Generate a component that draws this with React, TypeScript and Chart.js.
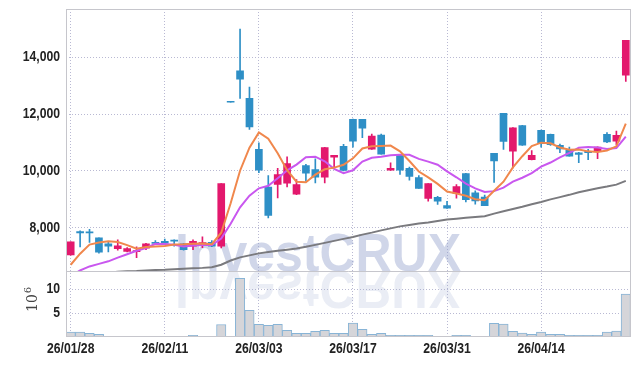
import { useEffect, useRef } from 'react';
import { Chart, registerables } from 'chart.js';

Chart.register(...registerables);

const dates = [
  '26/01/28', '26/01/29', '26/01/30', '26/02/02', '26/02/03', '26/02/04', '26/02/05', '26/02/06', '26/02/09', '26/02/10',
  '26/02/11', '26/02/12', '26/02/13', '26/02/19', '26/02/20', '26/02/23', '26/02/24', '26/02/25', '26/02/26', '26/02/27',
  '26/03/03', '26/03/04', '26/03/05', '26/03/06', '26/03/09', '26/03/10', '26/03/11', '26/03/12', '26/03/13', '26/03/16',
  '26/03/17', '26/03/18', '26/03/19', '26/03/20', '26/03/23', '26/03/24', '26/03/25', '26/03/26', '26/03/27', '26/03/30',
  '26/03/31', '26/04/01', '26/04/02', '26/04/03', '26/04/06', '26/04/07', '26/04/08', '26/04/09', '26/04/10', '26/04/13',
  '26/04/14', '26/04/15', '26/04/16', '26/04/17', '26/04/20', '26/04/21', '26/04/22', '26/04/23', '26/04/24', '26/04/27',
];

const opens = [
  7050, 7870, 7860, 7650, 7440, 7270, 7170, 7160, 7280, 7490,
  7520, 7570, 7440, 7350, 7420, 7490, 7350, 12420, 13520, 12560,
  10760, 9430, 9530, 9570, 9180, 10190, 10050, 9780, 10490, 10870,
  11820, 11820, 10770, 11260, 10030, 10580, 10090, 9770, 9030, 9070,
  8780, 9210, 9910, 9230, 9080, 10620, 12030, 10700, 11600, 10400,
  11430, 11290, 10900, 10730, 10640, 10690, 10700, 11290, 11050, 13370,
];
const highs = [
  7510, 7890, 7950, 7650, 7510, 7580, 7300, 7330, 7450, 7550,
  7600, 7575, 7450, 7580, 7680, 7550, 9560, 12420, 14990, 12950,
  10990, 9840, 10090, 10500, 9700, 10230, 10430, 10830, 10550, 10940,
  11830, 11820, 11300, 11300, 10290, 10590, 10140, 9840, 9560, 9110,
  8930, 9520, 9920, 9300, 9150, 10620, 12030, 11530, 11610, 10720,
  11440, 11300, 10950, 10840, 10660, 10760, 10850, 11350, 11400, 14600,
];
const lows = [
  7040, 7330, 7490, 7110, 7150, 7210, 7150, 6950, 7230, 7440,
  7450, 7350, 7210, 7230, 7300, 7340, 7290, 12420, 12550, 11460,
  9940, 8350, 9050, 9440, 9170, 9640, 9580, 9580, 10110, 10000,
  10840, 11170, 10760, 10590, 10020, 9880, 9680, 9390, 8940, 8820,
  8680, 9040, 8910, 8830, 8780, 9600, 10760, 10110, 10900, 10390,
  10840, 10900, 10640, 10520, 10290, 10400, 10430, 11000, 10930, 13150,
];
const closes = [
  7510, 7820, 7820, 7140, 7350, 7370, 7270, 7190, 7440, 7450,
  7460, 7530, 7230, 7520, 7480, 7350, 9560, 12420, 13230, 11550,
  10030, 8440, 9870, 10260, 9520, 9920, 9780, 10820, 10550, 10020,
  11050, 11510, 11230, 10590, 10090, 10030, 9810, 9390, 9560, 8940,
  8690, 9450, 8990, 8950, 8780, 10350, 11040, 11520, 10910, 10550,
  10960, 10930, 10780, 10520, 10580, 10640, 10840, 11020, 11250, 14600,
];

// volume in millions of shares
const volumes = [
  1.0, 1.0, 0.76, 0.55, 0.15, 0.15, 0.15, 0.15, 0.15, 0,
  0, 0.15, 0.15, 0.35, 0.15, 0.15, 2.6, 0.05, 12.2, 5.55,
  2.65, 2.43, 2.65, 1.4, 0.76, 0.76, 1.18, 1.4, 0.76, 0.76,
  2.9, 1.6, 0.55, 0.76, 0.35, 0.35, 0.35, 0.35, 0.35, 0.15,
  0.15, 0.35, 0.35, 0.15, 0.15, 2.85, 2.7, 1.18, 0.8, 0.55,
  1.04, 0.55, 0.55, 0.35, 0.35, 0.35, 0.35, 1.0, 1.25, 8.96,
];

const ma5 = [
  6700, 7090, 7410, 7480, 7528, 7500, 7390, 7264, 7324, 7344,
  7362, 7414, 7422, 7438, 7444, 7422, 7828, 8866, 10008, 10822,
  11358, 11134, 10624, 10030, 9624, 9602, 9870, 10060, 10118, 10218,
  10444, 10790, 10872, 10880, 10894, 10690, 10350, 9982, 9776, 9546,
  9278, 9206, 9126, 9004, 8972, 9304, 9622, 10128, 10520, 10874,
  10996, 10974, 10826, 10748, 10754, 10690, 10672, 10720, 10866, 11670,
];
const ma10 = [
  6300, 6500, 6640, 6730, 6820, 6950, 7070, 7190, 7290, 7436,
  7431, 7402, 7343, 7381, 7394, 7392, 7621, 8144, 8723, 9133,
  9390, 9481, 9745, 10019, 10223, 10480, 10502, 10342, 10074, 9921,
  10023, 10330, 10466, 10499, 10556, 10567, 10570, 10427, 10328, 10220,
  9984, 9778, 9554, 9390, 9259, 9291, 9414, 9627, 9762, 9923,
  10150, 10298, 10477, 10634, 10814, 10843, 10823, 10773, 10807, 11212,
];
const ma60 = [
  6380, 6390, 6400, 6410, 6430, 6450, 6470, 6480, 6500, 6515,
  6526, 6545, 6560, 6575, 6590, 6615, 6700, 6850, 6960, 7030,
  7100, 7150, 7190, 7230, 7270, 7330, 7400, 7470, 7540, 7610,
  7680, 7760, 7830, 7910, 7980, 8050, 8100, 8150, 8190, 8240,
  8290, 8320, 8350, 8380, 8410, 8500, 8580, 8660, 8740, 8830,
  8910, 9000, 9080, 9160, 9250, 9320, 9390, 9450, 9520, 9650,
];

const priceTicks = [8000, 10000, 12000, 14000];
const volumeTicks = [5, 10];
const volumeUnit = '10';
const volumeUnitExp = '6';

const PINK = '#e3186d';
const BLUE = '#2e8fc6';
const GRID = '#b9b9d3';
const FRAME = '#c6c6cc';
const LABEL_COLOR = '#222';
const LABEL_FONT = 'bold 14px "Liberation Sans", Arial, sans-serif';
const LABEL_SX = 0.87;

export default function App() {
  const ref = useRef<HTMLCanvasElement>(null);

  useEffect(() => {
    const canvas = ref.current;
    if (!canvas) return;

    const candleColor = (c: any) => (closes[c.dataIndex] > opens[c.dataIndex] ? PINK : BLUE);

    const watermark = {
      id: 'watermark',
      beforeDatasetsDraw(chart: any) {
        const { ctx, chartArea: ca } = chart;
        const ys = chart.scales.y;
        ctx.save();
        ctx.beginPath();
        ctx.rect(ca.left, ca.top, ca.right - ca.left, ca.bottom - ca.top);
        ctx.clip();
        ctx.font = 'bold 54px "Liberation Sans", Arial, sans-serif';
        ctx.textBaseline = 'alphabetic';
        ctx.textAlign = 'left';
        const text = 'InvestCRUX';
        const w = ctx.measureText(text).width;
        const sx = 286 / w;
        const baseY = ys.bottom;
        ctx.save();
        ctx.translate(175, baseY);
        ctx.scale(sx, 1);
        ctx.fillStyle = 'rgba(150,163,207,0.45)';
        ctx.fillText(text, 0, 0);
        ctx.restore();
        ctx.save();
        ctx.translate(175, baseY);
        ctx.scale(sx, -1);
        ctx.fillStyle = 'rgba(150,163,207,0.2)';
        ctx.fillText(text, 0, 0);
        ctx.restore();
        ctx.restore();
      },
    };

    const drawLabel = (ctx: any, text: string, x: number, y: number, align: string, baseline: string) => {
      ctx.save();
      ctx.translate(x, y);
      ctx.scale(LABEL_SX, 1);
      ctx.textAlign = align;
      ctx.textBaseline = baseline;
      ctx.fillText(text, 0, 0);
      ctx.restore();
    };

    const frame = {
      id: 'frame',
      afterDraw(chart: any) {
        const { ctx, chartArea: ca } = chart;
        const ys = chart.scales.y;
        const vs = chart.scales.vol;
        const xs = chart.scales.x;
        ctx.save();
        ctx.setLineDash([]);
        ctx.strokeStyle = FRAME;
        ctx.lineWidth = 1;
        ctx.strokeRect(Math.round(ca.left) + 0.5, Math.round(ca.top) + 0.5, Math.round(ca.right - ca.left) - 1, Math.round(ca.bottom - ca.top) - 1);
        const divY = Math.round(Math.max(ys.bottom, vs.top)) + 0.5;
        ctx.beginPath();
        ctx.moveTo(ca.left, divY);
        ctx.lineTo(ca.right, divY);
        ctx.stroke();

        // tick labels (condensed look)
        ctx.fillStyle = LABEL_COLOR;
        ctx.font = LABEL_FONT;
        priceTicks.forEach((v) => {
          drawLabel(ctx, v.toLocaleString('en-US'), ca.left - 6, ys.getPixelForValue(v), 'right', 'middle');
        });
        volumeTicks.forEach((v) => {
          drawLabel(ctx, String(v), ca.left - 6, vs.getPixelForValue(v), 'right', 'middle');
        });
        dates.forEach((d, i) => {
          if (i % 10 === 0) drawLabel(ctx, d, xs.getPixelForValue(i), ca.bottom + 16, 'center', 'alphabetic');
        });

        // volume axis unit title
        ctx.fillStyle = '#444';
        ctx.translate(37, 312);
        ctx.rotate(-Math.PI / 2);
        ctx.textBaseline = 'alphabetic';
        ctx.textAlign = 'left';
        ctx.font = '14px "DejaVu Serif", "Liberation Serif", serif';
        ctx.fillText(volumeUnit, 0, 0);
        const w10 = ctx.measureText(volumeUnit).width;
        ctx.font = '10px "DejaVu Serif", "Liberation Serif", serif';
        ctx.fillText(volumeUnitExp, w10 + 1, -6);
        ctx.restore();
      },
    };

    const chart = new Chart(canvas, {
      type: 'bar',
      data: {
        labels: dates,
        datasets: [
          {
            type: 'line', label: 'MA5', data: ma5, yAxisID: 'y', borderColor: '#f0874c', borderWidth: 2,
            pointRadius: 0, tension: 0, order: 0, fill: false,
          } as any,
          {
            type: 'line', label: 'MA10', data: ma10, yAxisID: 'y', borderColor: '#c957ef', borderWidth: 2,
            pointRadius: 0, tension: 0, order: 0, fill: false,
          } as any,
          {
            type: 'line', label: 'MA60', data: ma60, yAxisID: 'y', borderColor: '#7a7a7e', borderWidth: 2,
            pointRadius: 0, tension: 0, order: 0, fill: false,
          } as any,
          {
            type: 'bar', label: 'body', data: opens.map((o, i) => [o, closes[i]]), yAxisID: 'y',
            backgroundColor: candleColor, barThickness: 7, grouped: false, minBarLength: 1, order: 1,
          } as any,
          {
            type: 'bar', label: 'wick', data: lows.map((l, i) => [l, highs[i]]), yAxisID: 'y',
            backgroundColor: candleColor, barThickness: 1, grouped: false, order: 2,
          } as any,
          {
            type: 'bar', label: 'volume', data: volumes, yAxisID: 'vol',
            backgroundColor: '#d5d5d9', borderColor: '#88b4d6', borderWidth: 1,
            barPercentage: 1, categoryPercentage: 1, grouped: false, order: 3,
          } as any,
        ],
      },
      options: {
        animation: false,
        responsive: false,
        maintainAspectRatio: false,
        layout: { padding: { top: 9, left: 0, right: 8.5, bottom: 0 } },
        plugins: { legend: { display: false }, tooltip: { enabled: false } },
        scales: {
          x: {
            type: 'category',
            offset: true,
            grid: {
              offset: false,
              drawTicks: false,
              color: (c: any) => (c.index % 10 === 0 ? GRID : 'rgba(0,0,0,0)'),
            },
            border: { display: false, dash: [1, 2] },
            ticks: { display: false, autoSkip: false, maxRotation: 0, minRotation: 0 },
            afterFit: (s: any) => { s.height = 29; },
          },
          vol: {
            type: 'linear',
            position: 'left',
            stack: 'panels',
            stackWeight: 66,
            min: 0,
            max: 13.75,
            afterBuildTicks: (s: any) => { s.ticks = volumeTicks.map((v) => ({ value: v })); },
            grid: { drawTicks: false, color: GRID },
            border: { display: false, dash: [1, 2] },
            ticks: { display: false },
            afterFit: (s: any) => { s.width = 66; },
          },
          y: {
            type: 'linear',
            position: 'left',
            stack: 'panels',
            stackWeight: 262,
            min: 6480,
            max: 15700,
            afterBuildTicks: (s: any) => { s.ticks = priceTicks.map((v) => ({ value: v })); },
            grid: { drawTicks: false, color: GRID },
            border: { display: false, dash: [1, 2] },
            ticks: { display: false },
            afterFit: (s: any) => { s.width = 66; },
          },
        },
      } as any,
      plugins: [watermark, frame],
    });

    return () => chart.destroy();
  }, []);

  return (
    <div style={{ position: 'absolute', left: 0, top: 0, width: 639, height: 366, background: '#fff' }}>
      <canvas ref={ref} width={639} height={366} style={{ display: 'block', width: 639, height: 366 }} />
    </div>
  );
}
